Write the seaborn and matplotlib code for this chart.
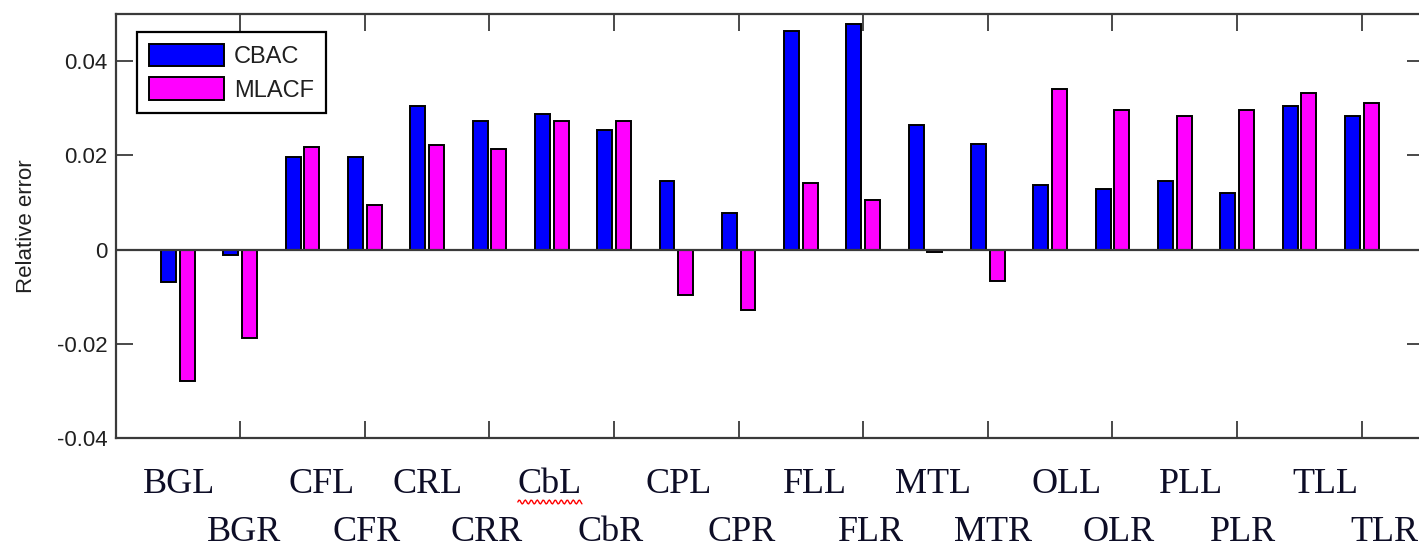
import numpy as np
import pandas as pd
import matplotlib
matplotlib.use("Agg")
import matplotlib.pyplot as plt
import matplotlib.transforms as mtransforms
import seaborn as sns

categories = ["BGL", "BGR", "CFL", "CFR", "CRL", "CRR", "CbL", "CbR", "CPL", "CPR",
              "FLL", "FLR", "MTL", "MTR", "OLL", "OLR", "PLL", "PLR", "TLL", "TLR"]
cbac = [-0.0069, -0.0011, 0.0197, 0.0197, 0.0305, 0.0272, 0.0288, 0.0253, 0.0146, 0.0078,
        0.0463, 0.0478, 0.0265, 0.0224, 0.0138, 0.0129, 0.0145, 0.0119, 0.0304, 0.0284]
mlacf = [-0.0279, -0.0188, 0.0217, 0.0094, 0.0221, 0.0213, 0.0272, 0.0272, -0.0097, -0.0129,
         0.0142, 0.0106, -0.0006, -0.0066, 0.0340, 0.0296, 0.0284, 0.0296, 0.0332, 0.0312]
series_names = ["CBAC", "MLACF"]
yticks = [-0.04, -0.02, 0, 0.02, 0.04]
ytick_labels = ["-0.04", "-0.02", "0", "0.02", "0.04"]

# style: horizontal nudges of the pasted category labels (in category units)
label_shift = [0.02, 0.06, 0.30, 0.02, 0.01, -0.04, -0.03, -0.05, 0.03, 0.04,
               0.22, 0.12, 0.12, 0.08, 0.26, 0.10, 0.26, 0.10, 0.41, 0.37]
underlined = {"CbL", "CbR"}

df = pd.DataFrame({
    "cat": categories * 2,
    "series": [series_names[0]] * len(categories) + [series_names[1]] * len(categories),
    "value": cbac + mlacf,
})

sns.set_theme(style="white")
plt.rcParams["font.family"] = ["Liberation Sans", "DejaVu Sans"]
plt.rcParams["axes.unicode_minus"] = False

W, H, DPI = 1419, 545, 100
fig = plt.figure(figsize=(W / DPI, H / DPI), dpi=DPI)
ax_left, ax_right, ax_top, ax_bot = 115.6, 1424.0, 14.0, 438.0
ax = fig.add_axes([ax_left / W, 1 - ax_bot / H, (ax_right - ax_left) / W, (ax_bot - ax_top) / H])

sns.barplot(data=df, x="cat", y="value", hue="series", order=categories,
            hue_order=series_names, palette=["#0000ff", "#ff00ff"], saturation=1,
            width=0.6, gap=0.2, edgecolor="black", linewidth=1.4,
            errorbar=None, ax=ax)

ax.set_xlim(-1, 20)
ax.set_ylim(-0.04, 0.05)
ax.axhline(0, color="#3a3a3a", lw=1.6, zorder=1)

spine_c = "#3a3a3a"
for s in ax.spines.values():
    s.set_visible(True)
    s.set_color(spine_c)
    s.set_linewidth(1.6)

ax.set_xticks(np.arange(1, 20, 2))
ax.set_xticklabels([])
ax.set_yticks(yticks)
ax.set_yticklabels(ytick_labels)
ax.tick_params(axis="both", which="major", direction="in", length=12, width=1.3,
               color=spine_c, top=True, right=True, bottom=True, left=True)
ax.tick_params(axis="y", labelsize=16, pad=6, labelcolor="#202020")
ax.set_xlabel("")
ax.set_ylabel("Relative error", fontsize=16, color="#202020", labelpad=14)

leg = ax.legend(loc="upper left", bbox_to_anchor=(0.0164, 0.9575), borderaxespad=0,
                fontsize=17, handlelength=3.2, handleheight=1.1, labelspacing=0.38,
                handletextpad=0.4, borderpad=0.5, fancybox=False, framealpha=1,
                edgecolor="black", title=None)
leg.get_frame().set_linewidth(1.6)
for t in leg.get_texts():
    t.set_color("#202020")

trans = mtransforms.blended_transform_factory(ax.transData, ax.transAxes)
ax_h = ax_bot - ax_top
row_y = [(ax_bot - 493) / ax_h, (ax_bot - 541) / ax_h]
texts = []
for i, (c, sh) in enumerate(zip(categories, label_shift)):
    t = ax.text(i + sh, row_y[i % 2], c, transform=trans, ha="center", va="baseline",
                fontsize=26, family=["Liberation Serif", "DejaVu Serif"],
                color="#0d0d26", clip_on=False)
    texts.append((c, t))

fig.canvas.draw()
renderer = fig.canvas.get_renderer()
for c, t in texts:
    if c in underlined:
        bb = t.get_window_extent(renderer)
        xs = np.linspace(bb.x0, bb.x1, 60)
        ys = bb.y0 - 1 + 2.0 * np.sin((xs - bb.x0) / 3.0 * np.pi)
        fig.add_artist(matplotlib.lines.Line2D(xs / W, ys / H, color="red", lw=1.0,
                                               transform=fig.transFigure))

fig.savefig("out.png", dpi=DPI)
